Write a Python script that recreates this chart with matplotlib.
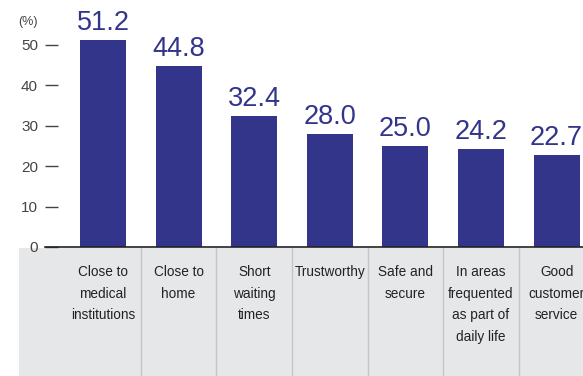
import matplotlib
matplotlib.use("Agg")
import matplotlib.pyplot as plt

categories = ["Close to\nmedical\ninstitutions", "Close to\nhome", "Short\nwaiting\ntimes",
              "Trustworthy", "Safe and\nsecure", "In areas\nfrequented\nas part of\ndaily life",
              "Good\ncustomer\nservice"]
values = [51.2, 44.8, 32.4, 28.0, 25.0, 24.2, 22.7]

bar_color = "#32358a"
panel_color = "#e6e7e9"
plt.rcParams["font.family"] = ["Liberation Sans", "DejaVu Sans"]

W, H = 583, 376
fig = plt.figure(figsize=(W / 100, H / 100), dpi=100)

# label panel under the bars
x_left = (19 - 103) / 75.6
x_right = (583 - 103) / 75.6
lab = fig.add_axes([19 / W, 0, 1 - 19 / W, 128 / H])
lab.set_xlim(x_left, x_right)
lab.set_ylim(0, 1)
lab.axis("off")
lab.add_patch(plt.Rectangle((x_left, 0), x_right - x_left, 1, color=panel_color, zorder=0))
for i in range(len(categories) - 1):
    lab.axvline(i + 0.5, color="#c4c5c8", lw=1)
for i, c in enumerate(categories):
    lab.text(i, 0.865, c, ha="center", va="top", fontsize=9.8, color="#222222",
             linespacing=1.68)

# bars
ax = fig.add_axes([45 / W, 129 / H, 1 - 45 / W, 247 / H])
x = list(range(len(values)))
ax.bar(x, values, width=46 / 75.6, color=bar_color)
ax.set_xlim((45 - 103) / 75.6, x_right)
ax.set_ylim(0, 247 / 4.04)
for s in ["top", "right", "left"]:
    ax.spines[s].set_visible(False)
ax.spines["bottom"].set_color("#222222")
ax.spines["bottom"].set_linewidth(1.2)
ax.set_xticks([])
ax.set_yticks([0, 10, 20, 30, 40, 50])
ax.tick_params(axis="y", direction="in", length=9, width=1, color="#444444",
               labelsize=11, labelcolor="#444444", pad=5)
ax.patch.set_alpha(0)

for i, v in enumerate(values):
    ax.annotate(f"{v:.1f}", (i, v), xytext=(0, 3), textcoords="offset points",
                ha="center", va="bottom", fontsize=19.5, color=bar_color)

fig.text(18 / W, 1 - 22 / H, "(%)", fontsize=9, color="#444444", ha="left", va="center")

fig.savefig("out.png", dpi=100)
